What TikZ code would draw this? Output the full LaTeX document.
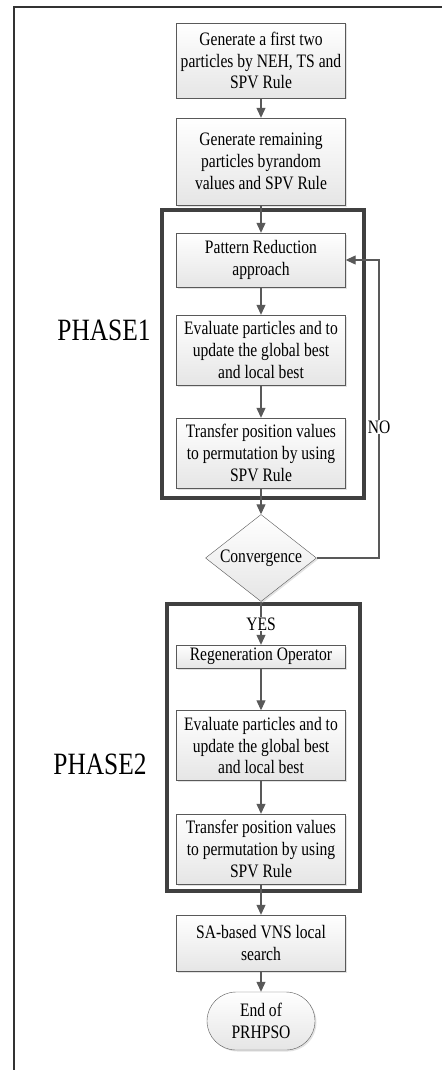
\documentclass[tikz,border=0pt]{standalone}
\usepackage{fontspec}
\setmainfont{Liberation Serif}
\newfontfamily\narrowfont[FakeStretch=0.82]{Liberation Serif}
\usetikzlibrary{shapes.geometric,shapes.misc,arrows.meta,shadows}
\definecolor{edge}{gray}{0.35}
\tikzstyle{txt}=[font=\narrowfont\fontsize{19}{21.7}\selectfont]
\tikzstyle{bx}=[txt,draw=edge,top color=white,bottom color=gray!20,drop shadow={shadow xshift=1.5pt,shadow yshift=-1.5pt,fill=gray!45},align=center,minimum width=169pt,inner xsep=1pt,inner ysep=2pt]
\tikzstyle{ar}=[draw=edge,line width=1.1pt,-{Triangle[width=9pt,length=10pt]}]
\tikzstyle{phase}=[draw=black!75,line width=4pt]
\tikzstyle{lbl}=[font=\narrowfont\fontsize{31}{31}\selectfont]

\begin{document}
\begin{tikzpicture}[x=1pt,y=-1pt]
\useasboundingbox (0,0) rectangle (442,1070);
\draw[line width=1.5pt,black!80] (14,1070) -- (14,7) -- (442,7);
\draw[phase] (162,210) rectangle (364,498);
\draw[phase] (167,604) rectangle (360,891);
\node[lbl] (ph1) at (104,330) {PHASE1};
\node[lbl] (ph2) at (100,764) {PHASE2};
\node[bx,minimum height=75pt] (gen) at (261,60.5) {Generate a first two\\particles by NEH, TS and\\SPV Rule};
\node[bx,minimum height=87pt] (rem) at (261,161.5) {Generate remaining\\particles byrandom\\values and SPV Rule};
\node[bx,minimum height=54pt] (pr) at (261,260) {Pattern Reduction\\approach};
\node[bx,minimum height=70pt] (ev1) at (261,350) {Evaluate particles and to\\update the global best\\and local best};
\node[bx,minimum height=70pt] (tr1) at (261,453) {Transfer position values\\to permutation by using\\SPV Rule};
\node[txt,diamond,draw=edge,top color=white,bottom color=gray!20,drop shadow={shadow xshift=1.5pt,shadow yshift=-1.5pt,fill=gray!45},aspect=1.28,inner sep=0pt,minimum width=111pt,minimum height=87pt] (cv) at (261,558) {Convergence};
\node[bx,minimum height=23pt] (rg) at (261,656.5) {Regeneration Operator};
\node[bx,minimum height=70pt] (ev2) at (261,745.5) {Evaluate particles and to\\update the global best\\and local best};
\node[bx,minimum height=70pt] (tr2) at (261,849) {Transfer position values\\to permutation by using\\SPV Rule};
\node[bx,minimum height=56pt] (sa) at (261,943) {SA-based VNS local\\search};
\node[txt,rounded rectangle,draw=edge,top color=white,bottom color=gray!20,drop shadow={shadow xshift=1.5pt,shadow yshift=-1.5pt,fill=gray!45},align=center,minimum width=112pt,minimum height=58pt,inner sep=2pt] (end) at (261,1021) {End of\\PRHPSO};
\coordinate (lp) at (379,260);
\draw[ar] (gen) -- (rem);
\draw[ar] (rem) -- (pr);
\draw[ar] (pr) -- (ev1);
\draw[ar] (ev1) -- (tr1);
\draw[ar] (tr1) -- (cv);
\draw[ar] (cv.east) -| (lp) -- (pr.east);
\draw[ar] (cv.south) -- (rg.north);
\draw[ar] (rg) -- (ev2);
\draw[ar] (ev2) -- (tr2);
\draw[ar] (tr2) -- (sa);
\draw[ar] (sa) -- (end);
\node[txt,fill=white,inner sep=1pt] (no) at (379,427) {NO};
\node[txt,fill=white,inner sep=1pt] (yes) at (261,624) {YES};
\end{tikzpicture}
\end{document}
